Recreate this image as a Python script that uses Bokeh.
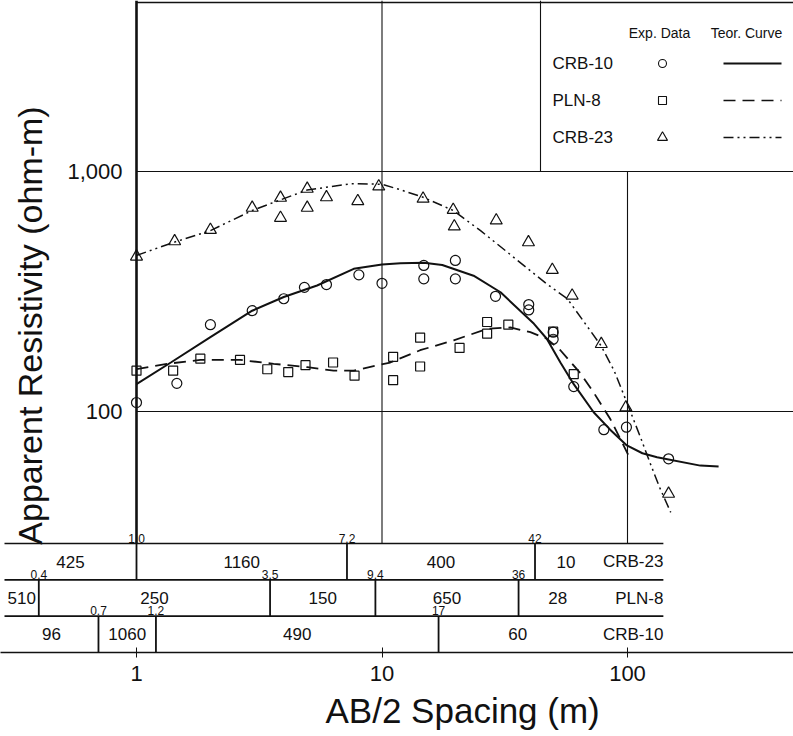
import math
from bokeh.plotting import figure
from bokeh.models import Range1d, LinearScale, FixedTicker, Title, BasicTickFormatter
from bokeh.core.properties import value
from bokeh.embed import file_html
from bokeh.resources import INLINE

FONT = "Liberation Sans"

# ---------------- data ----------------
STATIONS = ["CRB-10", "PLN-8", "CRB-23"]

# experimental data points
CRB10_X = [1.0, 1.46, 2.0, 2.96, 3.98, 4.83, 5.94, 8.05, 10.0, 14.8, 14.8, 19.9, 19.9,
           29.0, 39.6, 39.6, 49.8, 49.8, 60.4, 80.1, 99.0, 147.0]
CRB10_Y = [109, 131, 230, 263, 295, 329, 338, 371, 342, 406, 357, 426, 357,
           302, 279, 265, 214, 200, 127, 84, 86, 63.5]

PLN8_X = [1.0, 1.41, 1.82, 2.64, 3.41, 4.15, 4.88, 6.32, 7.73, 11.1, 11.1, 14.3, 14.3,
          20.7, 26.8, 26.8, 32.7, 49.8, 60.4]
PLN8_Y = [148, 148, 166, 164, 150, 146, 156, 160, 141, 169, 135, 203, 154,
          184, 236, 211, 230, 215, 143]

CRB23_X = [1.0, 1.43, 2.0, 2.96, 3.86, 3.86, 4.96, 4.96, 5.94, 7.97, 9.7, 14.7, 19.5,
           19.7, 29.2, 39.5, 49.4, 59.5, 78.2, 98.5, 147.0]
CRB23_Y = [442, 512, 571, 706, 777, 641, 847, 706, 781, 752, 866, 770, 692,
           590, 625, 507, 389, 304, 191, 104, 45.4]

# theoretical curves
CRB10_CURVE_X = [1.0, 1.38, 2.0, 2.96, 3.98, 5.44, 7.67, 10.0, 11.9, 14.8, 17.6, 23.6, 30.4,
                 41.6, 46.9, 53.3, 60.4, 72.8, 85.0, 99.4, 115.0, 132.0, 198.0, 235.0]
CRB10_CURVE_Y = [130, 160, 204, 263, 300, 335, 393, 410, 415, 417, 408, 368, 314,
                 232, 201, 160, 130, 99.3, 84, 72.2, 67, 64.5, 59.5, 59]

PLN8_CURVE_X = [1.0, 1.33, 1.82, 2.65, 3.62, 4.96, 6.35, 7.67, 10.8, 14.3, 19.6, 26.8, 33.3,
                40.2, 46.9, 53.3, 64.4, 72.8, 85.1, 94.0, 101.0]
PLN8_CURVE_Y = [150, 158, 164, 164, 158, 153, 148, 148, 160, 180, 198, 221, 224,
                214, 201, 180, 144, 120, 93, 76, 65.5]

CRB23_CURVE_X = [1.0, 1.42, 2.0, 2.96, 3.86, 4.96, 7.44, 10.0, 11.9, 14.7, 19.5, 25.2, 34.4,
                 46.9, 56.9, 70.6, 78.0, 88.2, 99.4, 113.0, 124.0, 135.0, 150.0]
CRB23_CURVE_Y = [447, 507, 567, 688, 762, 837, 889, 885, 839, 781, 688, 567, 439,
                 340, 295, 217, 188, 148, 109, 78, 60.5, 48.4, 38]

# layered models (one row per station, bottom row first)
LAYER_BOUNDS = [[0.7, 1.2, 17.0], [0.4, 3.5, 9.4, 36.0], [1.0, 7.2, 42.0]]
BOUND_LABELS = [["0.7", "1.2", "17"], ["0.4", "3.5", "9.4", "36"], ["1.0", "7.2", "42"]]
LAYER_RHO = [["96", "1060", "490", "60"],
             ["510", "250", "150", "650", "28"],
             ["425", "1160", "400", "10"]]

X_TICKS = [1, 10, 100]
X_TICK_LABELS = ["1", "10", "100"]
Y_TICKS = [100, 1000]
Y_TICK_LABELS = ["100", "1,000"]
X_TITLE = "AB/2 Spacing (m)"
Y_TITLE = "Apparent Resistivity (ohm-m)"
LEGEND_HEADERS = ["Exp. Data", "Teor. Curve"]

# ---------------- layout (page pixels) ----------------
W, H = 793, 736
FL, FR, FT, FB = 0, 793, 0, 652          # frame edges on the page
PX1, DX = 136, 245.5                     # x=1 position, px per decade
PY100, DY = 411, 240                     # y=100 position, px per decade
TBL_TOP_PX = 543

x_lo = 10 ** ((FL - PX1) / DX)
x_hi = 10 ** ((FR - PX1) / DX)
y_lo = 100 * 10 ** ((PY100 - FB) / DY)
y_hi = 100 * 10 ** ((PY100 - FT) / DY)
y_main_bottom = 100 * 10 ** ((PY100 - TBL_TOP_PX) / DY)
y_top_line = 100 * 10 ** ((PY100 - 2) / DY)
row_h = (FB - TBL_TOP_PX) / 3.0
tbl_hi = (FB - FT) / row_h
TABLE_LEFT = 10 ** ((4 - PX1) / DX)
TABLE_RIGHT = 140.0
LABEL_RIGHT = 75.0
legend_left = 10 ** ((540 - PX1) / DX)

p = figure(width=W, height=H, x_axis_type="log", y_axis_type="log",
           x_range=Range1d(x_lo, x_hi), y_range=Range1d(y_lo, y_hi),
           y_axis_location=None, output_backend="svg", toolbar_location=None,
           min_border_left=0, min_border_right=0, min_border_top=0,
           min_border_bottom=H - (FB - FT), title=None)
p.outline_line_color = None
p.grid.visible = False
p.background_fill_color = "white"
p.border_fill_color = "white"

p.extra_y_ranges = {"tbl": Range1d(0, tbl_hi), "px": Range1d(FB, FT)}
p.extra_y_scales = {"tbl": LinearScale(), "px": LinearScale()}
p.extra_x_ranges = {"px": Range1d(FL, FR)}
p.extra_x_scales = {"px": LinearScale()}

INK = "#111111"

# ---- main frame lines ----
p.segment(x0=[1], y0=[y_main_bottom], x1=[1], y1=[y_hi], line_color=INK, line_width=2.6)
p.segment(x0=[1], y0=[y_top_line], x1=[x_hi], y1=[y_top_line], line_color=INK, line_width=1.3)
p.segment(x0=[1] * len(Y_TICKS), y0=Y_TICKS, x1=[x_hi] * len(Y_TICKS), y1=Y_TICKS,
          line_color=INK, line_width=1.1)
p.segment(x0=[10, 100], y0=[y_main_bottom] * 2, x1=[10, 100], y1=[y_hi, 1000],
          line_color=INK, line_width=1.1)
p.segment(x0=[legend_left], y0=[1000], x1=[legend_left], y1=[y_hi], line_color=INK, line_width=1.1)

# y tick labels
p.text(x=[1] * len(Y_TICKS), y=Y_TICKS, text=Y_TICK_LABELS, x_offset=-14,
       text_align="right", text_baseline="middle", text_font=value(FONT),
       text_font_size="22px", text_color=INK)

# ---- theoretical curves ----
p.line(CRB10_CURVE_X, CRB10_CURVE_Y, line_color=INK, line_width=2.0)
p.line(PLN8_CURVE_X, PLN8_CURVE_Y, line_color=INK, line_width=1.8, line_dash="12 7")
p.line(CRB23_CURVE_X, CRB23_CURVE_Y, line_color=INK, line_width=1.5, line_dash="10 4 2 4 2 4")

# ---- experimental data ----
p.scatter(CRB10_X, CRB10_Y, marker="circle", size=10, fill_color=None, line_color=INK, line_width=1.2)
p.scatter(PLN8_X, PLN8_Y, marker="square", size=9, fill_color=None, line_color=INK, line_width=1.2)
p.scatter(CRB23_X, CRB23_Y, marker="triangle", size=12, fill_color=None, line_color=INK, line_width=1.2)

# ---- layered model table ----
nrow = len(STATIONS)
p.segment(x0=[TABLE_LEFT] * nrow, y0=list(range(1, nrow + 1)), x1=[TABLE_RIGHT] * nrow,
          y1=list(range(1, nrow + 1)), y_range_name="tbl", line_color=INK, line_width=1.6)
bx, by0, by1, blx, bly, bltxt = [], [], [], [], [], []
rx, ry, rtxt = [], [], []
for i, (bounds, blabels, rhos) in enumerate(zip(LAYER_BOUNDS, BOUND_LABELS, LAYER_RHO)):
    for b, lab in zip(bounds, blabels):
        bx.append(b); by0.append(i); by1.append(i + 1)
        blx.append(b); bly.append(i + 1); bltxt.append(lab)
    edges = [TABLE_LEFT] + bounds + [LABEL_RIGHT]
    for k, r in enumerate(rhos):
        rx.append(math.sqrt(edges[k] * edges[k + 1])); ry.append(i + 0.5); rtxt.append(r)
p.segment(x0=bx, y0=by0, x1=bx, y1=by1, y_range_name="tbl", line_color=INK, line_width=1.8)
p.text(x=blx, y=bly, text=bltxt, y_range_name="tbl", y_offset=-1, text_align="center",
       text_baseline="bottom", text_font=value(FONT), text_font_size="12px", text_color=INK)
p.text(x=rx, y=ry, text=rtxt, y_range_name="tbl", text_align="center", text_baseline="middle",
       text_font=value(FONT), text_font_size="17px", text_color=INK)
p.text(x=[TABLE_RIGHT] * nrow, y=[i + 0.5 for i in range(nrow)], text=STATIONS, y_range_name="tbl",
       text_align="right", text_baseline="middle", text_font=value(FONT), text_font_size="17px",
       text_color=INK)

# ---- legend (drawn in page-pixel coordinates) ----
leg_rows_y = [63, 100, 137]
p.text(x=[659, 746], y=[32, 32], text=LEGEND_HEADERS, x_range_name="px", y_range_name="px",
       text_align="center", text_baseline="middle", text_font=value(FONT),
       text_font_size="14px", text_color=INK)
p.text(x=[552] * 3, y=leg_rows_y, text=STATIONS, x_range_name="px", y_range_name="px",
       text_align="left", text_baseline="middle", text_font=value(FONT),
       text_font_size="17px", text_color=INK)
for yy, mk, sz in zip(leg_rows_y, ["circle", "square", "triangle"], [8, 8, 10]):
    p.scatter([662], [yy], marker=mk, size=sz, fill_color=None, line_color=INK, line_width=1.1,
              x_range_name="px", y_range_name="px")
for yy, dash, lw in zip(leg_rows_y, ["solid", "12 7", "10 4 2 4 2 4"], [1.8, 1.6, 1.4]):
    p.segment(x0=[723], y0=[yy], x1=[781], y1=[yy], line_color=INK, line_width=lw, line_dash=dash,
              x_range_name="px", y_range_name="px")

# y title
p.text(x=[29], y=[325], text=[Y_TITLE], angle=math.pi / 2, x_range_name="px", y_range_name="px",
       text_align="center", text_baseline="alphabetic", text_font=value(FONT),
       text_font_size="34px", text_color=INK)

# ---- x axis ----
ax = p.xaxis[0]
ax.ticker = FixedTicker(ticks=X_TICKS)
ax.formatter = BasicTickFormatter()
ax.major_label_overrides = {t: l for t, l in zip(X_TICKS, X_TICK_LABELS)}
ax.minor_tick_line_color = None
ax.major_tick_in = 5
ax.major_tick_out = 5
ax.major_tick_line_color = INK
ax.axis_line_color = INK
ax.axis_line_width = 1.6
ax.major_label_standoff = 8
ax.major_label_text_font = FONT
ax.major_label_text_font_size = "22px"
ax.major_label_text_color = INK

p.add_layout(Title(text=X_TITLE, align="left", offset=325 - FL, text_font=FONT,
                   text_font_size="35px", text_font_style="normal", text_color=INK,
                   vertical_align="bottom", standoff=11), "below")

open("out.html", "w").write(file_html(p, INLINE))
